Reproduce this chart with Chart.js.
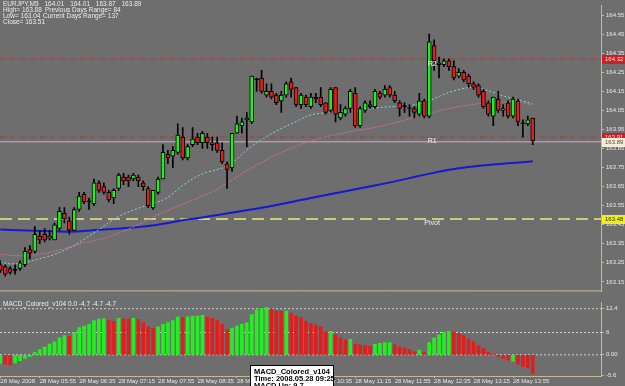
<!DOCTYPE html>
<html>
<head>
<meta charset="utf-8">
<script src="https://cdn.jsdelivr.net/npm/chart.js@4.4.1/dist/chart.umd.min.js"></script>
<style>
  html, body { margin: 0; padding: 0; background: #6e6e6e; }
  #wrap { position: relative; width: 625px; height: 386px; overflow: hidden; background: #6e6e6e; }
  #main { position: absolute; left: 0; top: 0; }
  #macd { position: absolute; left: 0; top: 297px; }
  .txt { position: absolute; font-family: "Liberation Sans", Arial, sans-serif; color: #ececec; white-space: nowrap; }
  #info { left: 3px; top: 1px; font-size: 6.5px; line-height: 6px; }
  #info div { position: relative; height: 6.1px; }
  #info div.wide { word-spacing: 4px; }
  #info span { position: absolute; top: 0; }
  #macdTitle { left: 3px; top: 300px; font-size: 6.5px; }
  #tip { position: absolute; left: 250px; top: 365px; width: 84px; height: 30px; background: #fff; border: 1px solid #000;
         font-family: "Liberation Sans", Arial, sans-serif; font-weight: bold; font-size: 7.5px; line-height: 7px;
         color: #000; padding: 2px 0 0 3px; white-space: nowrap; box-sizing: border-box; }
</style>
</head>
<body>
<div id="wrap">
  <canvas id="main" width="625" height="297"></canvas>
  <canvas id="macd" width="625" height="89"></canvas>
  <div id="info" class="txt">
    <div class="wide">EURJPY,M5 164.01 164.01 163.87 163.89</div>
    <div>High= 163.88<span style="left:42px">Previous Days Range= 84</span></div>
    <div>Low= 163.04<span style="left:40px">Current Days Range= 137</span></div>
    <div>Close= 163.51</div>
  </div>
  <div id="macdTitle" class="txt">MACD_Colored_v104 0.0 -4.7 -4.7 -4.7</div>
  <div id="tip">MACD_Colored_v104<br>Time: 2008.05.28 09:25<br>MACD Up: 9.7</div>
</div>
<script>
// EURJPY M5 チャート（ローソク足 + 移動平均 + MACD）

// --- データ ---
const OPEN = [163.24,163.23,163.22,163.21,163.22,163.24,163.32,163.31,163.39,163.40,163.38,163.37,163.43,163.51,163.47,163.42,163.53,163.61,163.57,163.56,
  163.67,163.65,163.62,163.59,163.64,163.70,163.70,163.69,163.70,163.67,163.64,163.54,163.62,163.69,163.82,163.81,163.83,163.91,163.80,163.87,
  163.91,163.88,163.91,163.87,163.88,163.84,163.77,163.75,163.93,163.97,164.00,163.99,164.21,164.22,164.13,164.15,164.13,164.10,164.13,164.20,
  164.17,164.08,164.12,164.07,164.12,164.12,164.09,164.05,164.17,164.01,164.03,164.06,164.14,163.97,164.05,164.08,164.07,164.14,164.13,164.17,
  164.13,164.09,164.07,164.06,164.06,164.03,164.10,164.02,164.39,164.30,164.29,164.31,164.28,164.23,164.25,164.23,164.19,164.18,164.15,164.09,
  164.02,164.11,164.05,164.09,164.02,164.10,163.98,163.98,164.01];
const HIGH = [163.26,163.24,163.23,163.24,163.26,163.33,163.34,163.44,163.42,163.43,163.42,163.46,163.54,163.54,163.49,163.54,163.62,163.62,163.59,163.69,
  163.68,163.67,163.63,163.64,163.72,163.72,163.71,163.72,163.71,163.68,163.65,163.63,163.70,163.87,163.84,163.86,163.98,163.96,163.87,163.96,
  163.93,163.94,163.93,163.91,163.91,163.88,163.78,163.93,164.02,164.01,164.04,164.23,164.22,164.26,164.19,164.19,164.14,164.15,164.20,164.22,
  164.17,164.14,164.13,164.14,164.14,164.17,164.09,164.17,164.17,164.08,164.07,164.16,164.17,164.07,164.10,164.10,164.16,164.15,164.18,164.18,
  164.15,164.10,164.09,164.08,164.07,164.14,164.11,164.45,164.42,164.33,164.32,164.32,164.31,164.27,164.26,164.24,164.20,164.19,164.16,164.10,
  164.12,164.15,164.08,164.10,164.12,164.11,164.00,164.02,164.01];
const LOW = [163.20,163.18,163.19,163.19,163.21,163.23,163.27,163.30,163.35,163.36,163.37,163.37,163.42,163.46,163.40,163.42,163.52,163.56,163.53,163.55,
  163.62,163.61,163.57,163.56,163.63,163.66,163.65,163.68,163.65,163.63,163.54,163.53,163.61,163.69,163.77,163.75,163.82,163.79,163.79,163.86,
  163.87,163.85,163.85,163.84,163.83,163.77,163.64,163.73,163.93,163.93,163.86,163.98,164.15,164.14,164.12,164.11,164.08,164.04,164.12,164.12,
  164.07,164.06,164.07,164.06,164.09,164.07,164.03,164.04,163.99,164.00,164.02,164.04,163.96,163.96,164.04,164.06,164.06,164.11,164.12,164.12,
  164.09,164.02,164.04,164.02,164.01,164.02,164.01,164.01,164.26,164.22,164.28,164.26,164.21,164.22,164.20,164.17,164.16,164.12,164.06,164.02,
  163.97,164.04,164.02,164.01,164.01,163.97,163.91,163.97,163.87];
const CLOSE = [163.21,163.19,163.20,163.21,163.25,163.31,163.30,163.40,163.37,163.37,163.39,163.45,163.52,163.48,163.42,163.53,163.60,163.57,163.57,163.67,
  163.63,163.62,163.58,163.63,163.71,163.68,163.68,163.71,163.68,163.65,163.55,163.63,163.69,163.83,163.80,163.84,163.92,163.80,163.86,163.90,
  163.88,163.93,163.88,163.88,163.84,163.78,163.74,163.93,163.98,163.99,164.01,164.23,164.21,164.15,164.15,164.12,164.09,164.13,164.19,164.16,
  164.08,164.13,164.08,164.12,164.11,164.08,164.04,164.16,164.03,164.04,164.06,164.15,163.97,164.06,164.09,164.07,164.15,164.12,164.16,164.13,
  164.10,164.06,164.07,164.06,164.04,164.10,164.02,164.41,164.31,164.29,164.31,164.28,164.22,164.25,164.21,164.19,164.17,164.13,164.07,164.03,
  164.12,164.05,164.06,164.02,164.11,163.99,163.98,164.00,163.89];

// 移動平均（読み取った節点: バー番号と値）
const MA_FAST_BAR = [0, 2.4, 6.6, 13.5, 20.2, 23.7, 29.8, 33.8, 37.1, 40.5, 46.6, 49.6, 52.7, 56.1, 59.4, 63.4, 71.5, 77, 83.7, 86.5, 90.6, 95.9, 98.7, 102.8, 107.9];
const MA_FAST_VAL = [163.254, 163.244, 163.262, 163.321, 163.428, 163.489, 163.553, 163.590, 163.658, 163.711, 163.767, 163.832, 163.893, 163.943, 163.984, 164.029, 164.044, 164.065, 164.078, 164.095, 164.140, 164.171, 164.156, 164.120, 164.086];
const MA_MID_BAR = [0, 3.4, 10.1, 16.8, 22.3, 26.9, 33.8, 40.5, 43.1, 50, 56.7, 63.4, 70.3, 77, 83.7, 90.6, 97.3, 104, 108];
const MA_MID_VAL = [163.295, 163.287, 163.305, 163.353, 163.388, 163.438, 163.523, 163.595, 163.624, 163.733, 163.826, 163.893, 163.935, 163.966, 164.011, 164.058, 164.086, 164.095, 164.080];
const MA_SLOW_BAR = [0, 7, 14, 20, 30, 34, 37, 41, 43, 53, 63, 77, 93, 108];
const MA_SLOW_VAL = [163.425, 163.418, 163.413, 163.423, 163.443, 163.459, 163.474, 163.488, 163.497, 163.539, 163.590, 163.661, 163.746, 163.783];

// 水平線（R2 / R1 / 現在値 / Pivot）
const LEVEL_R2 = 164.32;
const LEVEL_R1 = 163.91;
const LEVEL_BID = 163.885;
const LEVEL_PIVOT = 163.48;

// 価格軸の目盛
const PRICE_TICKS = [164.55, 164.45, 164.35, 164.25, 164.15, 164.05, 163.95, 163.85, 163.75, 163.65, 163.55, 163.45, 163.35, 163.25, 163.15];

// MACD ヒストグラム（値と色: 1=上昇 緑, 0=下降 赤）
const MACD = [-2.3,-2.5,-2.7,-2.2,-1.6,-1.0,-0.5,0.7,1.4,2.1,2.9,3.5,4.6,5.2,5.0,6.0,7.3,7.7,8.2,9.2,
  9.6,9.7,9.2,9.0,9.8,9.7,9.6,9.8,9.5,8.7,7.5,7.1,7.5,8.2,8.7,9.2,10.2,10.0,10.2,10.4,
  10.5,10.6,10.2,9.8,9.2,8.2,6.7,7.2,7.7,8.2,8.6,10.8,12.1,12.5,12.7,12.3,11.8,11.7,11.8,11.2,
  10.4,10.0,9.1,8.4,8.0,7.5,6.2,6.3,5.4,4.6,4.0,4.2,2.9,2.7,2.5,2.3,2.8,3.1,3.3,3.3,
  2.7,2.1,1.8,1.5,0.8,1.3,0.7,3.3,4.6,5.4,6.1,6.3,6.1,5.8,5.2,4.3,3.5,2.5,1.7,0.7,
  0.2,-0.4,-1.0,-1.4,-1.7,-2.5,-3.2,-3.5,-5.0];
const MACD_UP = [1,0,0,1,1,1,1,1,1,1,1,1,1,1,0,1,1,1,1,1,
  1,1,0,0,1,0,0,1,0,0,0,0,1,1,1,1,1,0,1,1,
  1,1,0,0,0,0,0,1,1,1,1,1,1,1,1,0,0,0,1,0,
  0,0,0,0,0,0,0,1,0,0,0,1,0,0,0,0,1,1,1,1,
  0,0,0,0,0,1,0,1,1,1,1,1,0,0,0,0,0,0,0,0,
  0,0,0,0,1,0,0,0,0];
const MACD_TICKS = [12.4, 6, 0, -5.6];
const MACD_TICK_TEXT = ['12.4', '6', '0.00', '-5.6'];

// 時間軸ラベル（バー番号と表示）
const TIME_BARS = [0, 8, 16, 24, 32, 40, 48, 56, 64, 72, 80, 88, 96, 104];
const TIME_LABELS = ['28 May 2008', '28 May 05:55', '28 May 06:35', '28 May 07:15', '28 May 07:55', '28 May 08:35', '28 May 09:15',
  '28 May 09:55', '28 May 10:35', '28 May 11:15', '28 May 11:55', '28 May 12:35', '28 May 13:15', '28 May 13:55'];

// --- 表示設定 ---
const X_MIN = -0.06;
const X_MAX = 121.85;
const AXIS = '#c8b896';
const TEXT = '#e8e8e8';
const FONT = '"Liberation Sans", Arial, sans-serif';
const BULL = '#22ee22';
const BEAR = '#e41c1c';

const idx = OPEN.map((_, i) => i);
const knots = (bars, vals) => bars.map((b, i) => ({ x: b, y: vals[i] }));
const hline = (v) => [{ x: X_MIN, y: v }, { x: X_MAX, y: v }];

// 価格ラベル（右軸の色付きボックス）とテキストオブジェクト
const priceTags = {
  id: 'priceTags',
  afterDraw(chart) {
    const { ctx, scales: { x, y } } = chart;
    ctx.save();
    // パネル区切り線
    ctx.strokeStyle = AXIS;
    ctx.lineWidth = 1;
    ctx.beginPath();
    ctx.moveTo(0, chart.chartArea.bottom - 0.5);
    ctx.lineTo(y.left, chart.chartArea.bottom - 0.5);
    ctx.stroke();

    const tags = [
      { v: LEVEL_R2, t: '164.32', bg: '#c62228', fg: '#f6d6d6' },
      { v: LEVEL_R1, t: '163.91', bg: '#c62228', fg: '#f6d6d6' },
      { v: LEVEL_BID, t: '163.89', bg: '#f4ecdc', fg: '#6a4020' },
      { v: LEVEL_PIVOT, t: '163.48', bg: '#f0f020', fg: '#303000' }
    ];
    ctx.font = '6px ' + FONT;
    ctx.textBaseline = 'middle';
    tags.forEach(tag => {
      const py = Math.round(y.getPixelForValue(tag.v));
      ctx.fillStyle = tag.bg;
      ctx.fillRect(y.left + 1, py - 4, 24, 9);
      ctx.fillStyle = tag.fg;
      ctx.textAlign = 'left';
      ctx.fillText(tag.t, y.left + 4, py + 0.5);
    });

    // R2 / R1 / Pivot の文字
    ctx.fillStyle = '#f2f2f2';
    ctx.font = '7px ' + FONT;
    ctx.textAlign = 'center';
    ctx.textBaseline = 'top';
    const lx = x.getPixelForValue(87.6);
    ctx.fillText('R2', lx, y.getPixelForValue(LEVEL_R2) + 2);
    ctx.fillText('R1', lx, y.getPixelForValue(LEVEL_R1) + 0.5);
    ctx.fillText('Pivot', lx, y.getPixelForValue(LEVEL_PIVOT) + 1);
    ctx.restore();
  }
};

// --- 価格チャート ---
new Chart(document.getElementById('main').getContext('2d'), {
  data: {
    datasets: [
      {
        type: 'bar', label: 'body', order: 0, grouped: false,
        data: idx.map(i => ({ x: i, y: [OPEN[i], CLOSE[i]] })),
        backgroundColor: idx.map(i => CLOSE[i] > OPEN[i] ? BULL : CLOSE[i] < OPEN[i] ? BEAR : '#000'),
        borderColor: '#000', borderWidth: 1, borderSkipped: false,
        barThickness: 4, minBarLength: 1
      },
      {
        type: 'bar', label: 'wick', order: 1, grouped: false,
        data: idx.map(i => ({ x: i, y: [LOW[i], HIGH[i]] })),
        backgroundColor: '#000', barThickness: 1
      },
      {
        type: 'line', label: 'MA fast', order: 2, data: knots(MA_FAST_BAR, MA_FAST_VAL),
        borderColor: '#82d8d8', borderWidth: 1, borderDash: [2, 2], pointRadius: 0, cubicInterpolationMode: 'monotone'
      },
      {
        type: 'line', label: 'MA mid', order: 2, data: knots(MA_MID_BAR, MA_MID_VAL),
        borderColor: '#bc7294', borderWidth: 1, borderDash: [3, 1], pointRadius: 0, cubicInterpolationMode: 'monotone'
      },
      {
        type: 'line', label: 'MA slow', order: 2, data: knots(MA_SLOW_BAR, MA_SLOW_VAL),
        borderColor: '#1818d0', borderWidth: 2, pointRadius: 0, cubicInterpolationMode: 'monotone'
      },
      { type: 'line', label: 'R2', order: 3, data: hline(LEVEL_R2), borderColor: '#a83a3a', borderWidth: 1, borderDash: [5, 2, 1, 2], pointRadius: 0 },
      { type: 'line', label: 'R1', order: 3, data: hline(LEVEL_R1), borderColor: '#a83a3a', borderWidth: 1, borderDash: [5, 2, 1, 2], pointRadius: 0 },
      { type: 'line', label: 'bid', order: 3, data: hline(LEVEL_BID), borderColor: '#e2a4c6', borderWidth: 1, pointRadius: 0 },
      { type: 'line', label: 'pivot', order: 3, data: hline(LEVEL_PIVOT), borderColor: '#cccc78', borderWidth: 2, borderDash: [12, 6], pointRadius: 0 }
    ]
  },
  options: {
    responsive: false, animation: false, events: [],
    layout: { padding: 0 },
    plugins: { legend: { display: false }, tooltip: { enabled: false } },
    scales: {
      x: { type: 'linear', min: X_MIN, max: X_MAX, offset: false, display: false },
      y: {
        type: 'linear', position: 'right', min: 163.10, max: 164.60,
        afterFit: s => { s.width = 24; },
        afterBuildTicks: s => { s.ticks = PRICE_TICKS.map(v => ({ value: v })); },
        ticks: { callback: v => v.toFixed(2), color: TEXT, font: { size: 6, family: FONT }, padding: 2 },
        grid: { drawOnChartArea: false, color: AXIS, tickLength: 3 },
        border: { color: AXIS, width: 1 }
      }
    }
  },
  plugins: [priceTags]
});

// --- MACD パネル ---
new Chart(document.getElementById('macd').getContext('2d'), {
  data: {
    datasets: [
      {
        type: 'bar', label: 'MACD', order: 0, grouped: false,
        data: idx.map(i => ({ x: i, y: MACD[i] })),
        backgroundColor: idx.map(i => MACD_UP[i] ? BULL : BEAR),
        barThickness: 3
      },
      { type: 'line', order: 1, data: hline(12.4), borderColor: '#d4d4d4', borderWidth: 1, borderDash: [2, 2], pointRadius: 0 },
      { type: 'line', order: 1, data: hline(6), borderColor: '#d4d4d4', borderWidth: 1, borderDash: [2, 2], pointRadius: 0 },
      { type: 'line', order: 1, data: hline(0), borderColor: '#d4d4d4', borderWidth: 1, borderDash: [2, 2], pointRadius: 0 }
    ]
  },
  options: {
    responsive: false, animation: false, events: [],
    layout: { padding: 0 },
    plugins: { legend: { display: false }, tooltip: { enabled: false } },
    scales: {
      x: {
        type: 'linear', position: 'bottom', min: X_MIN, max: X_MAX, offset: false,
        afterFit: s => { s.height = 10; },
        afterBuildTicks: s => { s.ticks = TIME_BARS.map(v => ({ value: v })); },
        ticks: {
          callback: v => TIME_LABELS[TIME_BARS.indexOf(v)],
          align: 'start', maxRotation: 0, autoSkip: false,
          color: TEXT, font: { size: 6, family: FONT }, padding: 0
        },
        grid: { drawOnChartArea: false, offset: false, color: AXIS, tickLength: 2 },
        border: { color: AXIS, width: 1 }
      },
      y: {
        type: 'linear', position: 'right', min: -5.7, max: 14.05,
        afterFit: s => { s.width = 24; },
        afterBuildTicks: s => { s.ticks = MACD_TICKS.map(v => ({ value: v })); },
        ticks: {
          callback: v => MACD_TICK_TEXT[MACD_TICKS.indexOf(v)],
          color: TEXT, font: { size: 6, family: FONT }, padding: 2
        },
        grid: { drawOnChartArea: false, color: AXIS, tickLength: 3 },
        border: { color: AXIS, width: 1 }
      }
    }
  }
});
</script>
</body>
</html>
